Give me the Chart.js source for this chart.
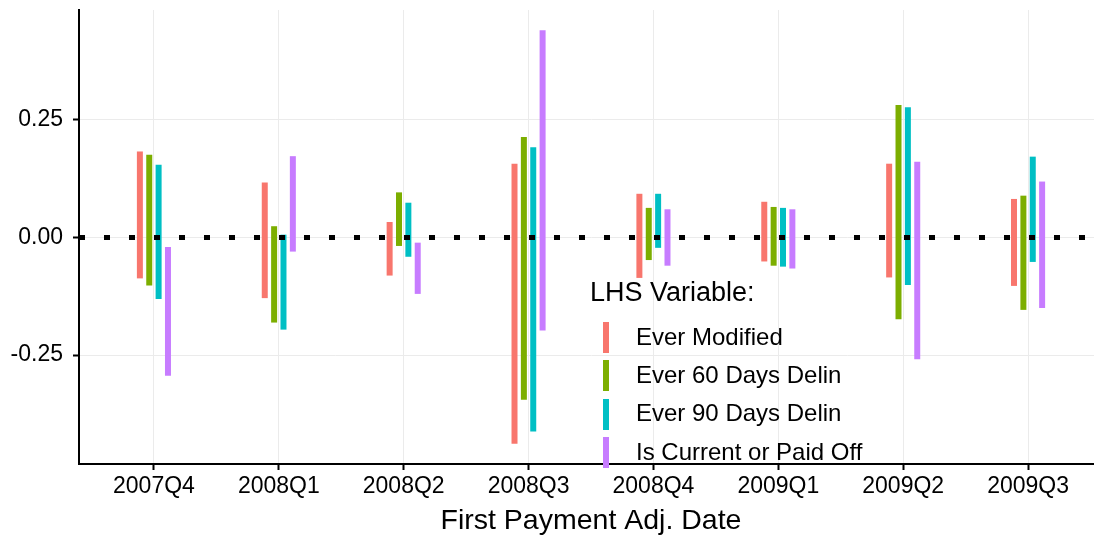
<!DOCTYPE html>
<html>
<head>
<meta charset="utf-8">
<script src="https://cdn.jsdelivr.net/npm/chart.js@4"></script>
<style>
  html, body { margin: 0; padding: 0; overflow: hidden; background: #fff; width: 1094px; height: 538px; }
  #wrap { position: relative; width: 1103px; height: 538px; }
  #legend { position: absolute; left: 0; top: 0; font-family: "Liberation Sans", Arial, sans-serif; color: #000; }
  .lt { position: absolute; white-space: nowrap; line-height: 1; }
  .key { position: absolute; width: 6px; height: 31px; }
</style>
</head>
<body>
<div id="wrap">
  <canvas id="c" width="1103" height="538"></canvas>
  <div id="legend"></div>
</div>
<script>
// ---- data ----
const categories = ['2007Q4', '2008Q1', '2008Q2', '2008Q3', '2008Q4', '2009Q1', '2009Q2', '2009Q3'];
const seriesNames = ['Ever Modified', 'Ever 60 Days Delin', 'Ever 90 Days Delin', 'Is Current or Paid Off'];
const seriesColors = ['#F8766D', '#7CAE00', '#00BFC4', '#C77CFF'];
const everModifiedLow  = [-0.087, -0.129, -0.081, -0.439, -0.086, -0.051, -0.085, -0.103];
const everModifiedHigh = [ 0.183,  0.117,  0.033,  0.157,  0.093,  0.076,  0.157,  0.082];
const ever60Low  = [-0.102, -0.181, -0.018, -0.345, -0.048, -0.060, -0.174, -0.154];
const ever60High = [ 0.176,  0.024,  0.096,  0.214,  0.063,  0.065,  0.282,  0.089];
const ever90Low  = [-0.131, -0.196, -0.041, -0.413, -0.022, -0.062, -0.101, -0.052];
const ever90High = [ 0.155,  0.006,  0.074,  0.192,  0.093,  0.063,  0.277,  0.172];
const currentLow  = [-0.294, -0.030, -0.120, -0.198, -0.060, -0.066, -0.259, -0.150];
const currentHigh = [-0.020,  0.173, -0.011,  0.441,  0.060,  0.060,  0.161,  0.119];
const yTickValues = [-0.25, 0, 0.25];
const yTickLabels = ['-0.25', '0.00', '0.25'];
const legendTitle = 'LHS Variable:';
const xTitle = 'First Payment Adj. Date';

const lows = [everModifiedLow, ever60Low, ever90Low, currentLow];
const highs = [everModifiedHigh, ever60High, ever90High, currentHigh];

const FONT = '"Liberation Sans", Arial, Helvetica, sans-serif';
Chart.defaults.font.family = FONT;
Chart.defaults.color = '#000';

const datasets = seriesNames.map((name, s) => ({
  label: name,
  data: categories.map((c, i) => ({ x: i, y: [lows[s][i], highs[s][i]] })),
  backgroundColor: seriesColors[s],
  borderWidth: 0,
  categoryPercentage: 0.3,
  barPercentage: 0.64
}));

const zeroLine = {
  id: 'zeroLine',
  afterDatasetsDraw(chart) {
    const { ctx, chartArea, scales } = chart;
    const y = scales.y.getPixelForValue(0);
    ctx.save();
    ctx.strokeStyle = '#000';
    ctx.lineWidth = 5;
    ctx.lineCap = 'butt';
    ctx.setLineDash([6, 19]);
    ctx.beginPath();
    ctx.moveTo(chartArea.left, y);
    ctx.lineTo(chartArea.right, y);
    ctx.stroke();
    ctx.restore();
  }
};

new Chart(document.getElementById('c'), {
  type: 'bar',
  data: { datasets },
  options: {
    responsive: false,
    animation: false,
    layout: { padding: { top: 10, right: 0, bottom: 0, left: 0 } },
    plugins: { legend: { display: false }, tooltip: { enabled: false } },
    scales: {
      x: {
        type: 'linear',
        min: -0.6,
        max: 7.6,
        offset: false,
        afterBuildTicks: (scale) => { scale.ticks = categories.map((c, i) => ({ value: i })); },
        afterFit: (scale) => { scale.height = 74; scale.paddingLeft = 0; scale.paddingRight = 0; },
        ticks: {
          callback: (v) => categories[v],
          font: { size: 23 },
          color: '#000',
          padding: 3,
          maxRotation: 0,
          autoSkip: false
        },
        grid: { color: '#EBEBEB', lineWidth: 1, offset: false, tickColor: '#000', tickLength: 6, tickWidth: 2 },
        border: { color: '#000', width: 2 },
        title: { display: true, text: xTitle, font: { size: 28.5 }, color: '#000', padding: { top: 0, bottom: 0 } }
      },
      y: {
        min: -0.4819,
        max: 0.484,
        afterBuildTicks: (scale) => { scale.ticks = yTickValues.map(v => ({ value: v })); },
        afterFit: (scale) => { scale.width = 79; scale.paddingTop = 0; scale.paddingBottom = 0; },
        ticks: {
          callback: (v) => yTickLabels[yTickValues.indexOf(v)],
          font: { size: 23 },
          color: '#000',
          padding: 10
        },
        grid: { color: '#EBEBEB', lineWidth: 1, tickColor: '#000', tickLength: 6, tickWidth: 2 },
        border: { color: '#000', width: 2 }
      }
    }
  },
  plugins: [zeroLine]
});

// ---- legend (HTML text) ----
const leg = document.getElementById('legend');
const t = document.createElement('div');
t.className = 'lt';
t.style.left = '590px';
t.style.top = '279px';
t.style.fontSize = '27px';
t.textContent = legendTitle;
leg.appendChild(t);
seriesNames.forEach((name, i) => {
  const k = document.createElement('div');
  k.className = 'key';
  k.style.left = '603px';
  k.style.top = (322 + i * 38.3) + 'px';
  k.style.background = seriesColors[i];
  leg.appendChild(k);
  const d = document.createElement('div');
  d.className = 'lt';
  d.style.left = '636px';
  d.style.top = (324.7 + i * 38.3) + 'px';
  d.style.fontSize = '24px';
  d.textContent = name;
  leg.appendChild(d);
});
</script>
</body>
</html>
